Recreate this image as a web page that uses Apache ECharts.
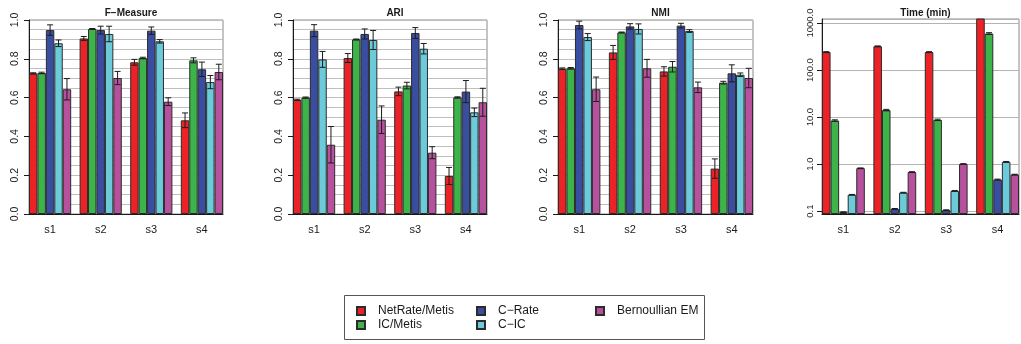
<!DOCTYPE html>
<html>
<head>
<meta charset="utf-8">
<script src="https://cdn.jsdelivr.net/npm/echarts@6/dist/echarts.min.js"></script>
<style>
  html, body { margin: 0; padding: 0; background: #fff; }
  #chart { width: 1021px; height: 344px; }
</style>
</head>
<body>
<div id="chart"></div>
<script>
// Sample sets on the x axis and the compared methods
const categories = ['s1', 's2', 's3', 's4'];
const methods = ['NetRate/Metis', 'IC/Metis', 'C\u2212Rate', 'C\u2212IC', 'Bernoullian EM'];
const colors = ['#EC2227', '#3DB44A', '#3A4EA1', '#6BCBDB', '#B8519D'];

// Rows follow `methods`, columns follow `categories`
const fMeasureMean = [
  [0.725, 0.905, 0.782, 0.483],
  [0.727, 0.954, 0.804, 0.792],
  [0.948, 0.948, 0.945, 0.746],
  [0.880, 0.928, 0.890, 0.680],
  [0.643, 0.701, 0.579, 0.732]
];
const fMeasureErr = [
  [0.003, 0.010, 0.015, 0.038],
  [0.004, 0.002, 0.004, 0.013],
  [0.027, 0.020, 0.019, 0.037],
  [0.017, 0.040, 0.009, 0.034],
  [0.055, 0.034, 0.020, 0.040]
];

const ariMean = [
  [0.589, 0.804, 0.632, 0.196],
  [0.600, 0.900, 0.662, 0.601],
  [0.945, 0.928, 0.933, 0.631],
  [0.797, 0.897, 0.852, 0.524],
  [0.357, 0.486, 0.316, 0.576]
];
const ariErr = [
  [0.003, 0.023, 0.022, 0.044],
  [0.003, 0.002, 0.017, 0.003],
  [0.031, 0.026, 0.028, 0.057],
  [0.041, 0.049, 0.027, 0.022],
  [0.094, 0.071, 0.031, 0.072]
];

const nmiMean = [
  [0.749, 0.833, 0.735, 0.234],
  [0.751, 0.936, 0.759, 0.677],
  [0.974, 0.967, 0.971, 0.725],
  [0.912, 0.954, 0.943, 0.718],
  [0.643, 0.751, 0.653, 0.701]
];
const nmiErr = [
  [0.004, 0.036, 0.024, 0.050],
  [0.004, 0.002, 0.027, 0.007],
  [0.020, 0.014, 0.012, 0.044],
  [0.018, 0.026, 0.007, 0.009],
  [0.063, 0.046, 0.027, 0.050]
];

// Running time in minutes (log scale)
const timeMean = [
  [241, 320, 241, 1300],
  [8.45, 14.1, 8.75, 598],
  [0.095, 0.112, 0.105, 0.47],
  [0.224, 0.248, 0.27, 1.12],
  [0.82, 0.68, 1.01, 0.60]
];
const timeErr = [
  [5, 6, 5, 0],
  [0.3, 0.5, 0.3, 25],
  [0.002, 0.002, 0.002, 0.01],
  [0.003, 0.004, 0.004, 0.02],
  [0.01, 0.01, 0.01, 0.01]
];

const scoreTicks = [0, 0.2, 0.4, 0.6, 0.8, 1.0];
const timeRange = [0.0871, 1217];

const FONT = '"Liberation Sans", Arial, Helvetica, sans-serif';
const INK = '#1a1a1a';
const GRIDLINE = '#bfbfbf';

// One slot per bar plus an empty slot between sample sets
const groupSize = methods.length + 1;
const slots = [];
categories.forEach((c, k) => {
  methods.forEach((m, i) => slots.push(c + '_' + i));
  if (k < categories.length - 1) slots.push('gap_' + k);
});
const slotOf = (k, i) => k * groupSize + i;
const centerSlot = Math.floor(methods.length / 2);

const panels = [
  { title: 'F\u2212Measure', mean: fMeasureMean, err: fMeasureErr, box: [29, 20, 194, 194] },
  { title: 'ARI', mean: ariMean, err: ariErr, box: [293, 20, 194, 194] },
  { title: 'NMI', mean: nmiMean, err: nmiErr, box: [558, 20, 195, 194] },
  { title: 'Time (min)', mean: timeMean, err: timeErr, box: [822, 19, 197, 195], log: true }
];

const option = {
  animation: false,
  backgroundColor: '#fff',
  textStyle: { fontFamily: FONT },
  title: [],
  grid: [],
  xAxis: [],
  yAxis: [],
  series: [],
  legend: [],
  graphic: []
};

panels.forEach((p, pi) => {
  const [left, top, width, height] = p.box;
  option.title.push({
    text: p.title,
    left: left + width / 2,
    top: 3,
    textAlign: 'center',
    textStyle: { fontFamily: FONT, fontSize: 10, fontWeight: 'bold', color: INK }
  });
  option.grid.push({
    left, top, width, height,
    show: true, borderColor: '#8a8a8a', borderWidth: 1,
    containLabel: false, outerBoundsMode: 'none'
  });
  option.xAxis.push({
    type: 'category',
    gridIndex: pi,
    data: slots,
    boundaryGap: true,
    axisLine: { show: true, lineStyle: { color: INK, width: 1 } },
    axisTick: { show: false },
    splitLine: { show: false },
    axisLabel: {
      interval: 0,
      margin: 10,
      fontSize: 11,
      color: INK,
      fontFamily: FONT,
      formatter: (v, idx) => (idx % groupSize === centerSlot ? categories[Math.floor(idx / groupSize)] : '')
    }
  });
  if (p.log) {
    option.yAxis.push({
      type: 'log',
      logBase: 10,
      gridIndex: pi,
      min: timeRange[0],
      max: timeRange[1],
      startValue: timeRange[0],
      axisLine: { show: true, lineStyle: { color: INK } },
      axisTick: { show: true, length: 5, lineStyle: { color: INK } },
      axisLabel: {
        rotate: 90, fontSize: 9.5, color: INK, margin: 7, fontFamily: FONT,
        showMinLabel: false, showMaxLabel: false,
        formatter: v => Number(v).toFixed(1)
      },
      splitLine: { show: true, lineStyle: { color: '#b4b4b4', width: 1 } }
    });
  } else {
    option.yAxis.push({
      type: 'value',
      gridIndex: pi,
      min: scoreTicks[0],
      max: scoreTicks[scoreTicks.length - 1],
      interval: scoreTicks[1] - scoreTicks[0],
      axisLine: { show: true, lineStyle: { color: INK } },
      axisTick: { show: true, length: 5, lineStyle: { color: INK } },
      axisLabel: {
        rotate: 90, fontSize: 10.5, color: INK, margin: 8, fontFamily: FONT,
        formatter: v => Number(v).toFixed(1)
      },
      splitLine: { show: true, lineStyle: { color: GRIDLINE, width: 1 } },
      minorTick: { show: false, splitNumber: 4 },
      minorSplitLine: { show: true, lineStyle: { color: GRIDLINE, width: 1 } }
    });
  }

  // bars: each method fills its own slot
  methods.forEach((m, i) => {
    const data = slots.map(() => null);
    categories.forEach((c, k) => { data[slotOf(k, i)] = p.mean[i][k]; });
    option.series.push({
      type: 'bar',
      name: m,
      xAxisIndex: pi,
      yAxisIndex: pi,
      data,
      barGap: '-100%',
      barCategoryGap: '0%',
      clip: true,
      itemStyle: { color: colors[i], borderColor: '#2b2b2b', borderWidth: 1 },
      emphasis: { disabled: true },
      z: 2
    });
  });

  // error bars with caps
  const errData = [];
  methods.forEach((m, i) => {
    categories.forEach((c, k) => {
      const e = p.err[i][k];
      if (e > 0) errData.push([slotOf(k, i), p.mean[i][k] - e, p.mean[i][k] + e]);
    });
  });
  option.series.push({
    type: 'custom',
    xAxisIndex: pi,
    yAxisIndex: pi,
    data: errData,
    encode: { x: 0, y: [1, 2] },
    z: 5,
    silent: true,
    renderItem: (params, api) => {
      const x = api.value(0);
      const hi = api.coord([x, api.value(2)]);
      const lo = api.coord([x, api.value(1)]);
      const cap = 3;
      const style = { stroke: '#1c1c1c', lineWidth: 1 };
      return {
        type: 'group',
        children: [
          { type: 'line', shape: { x1: hi[0], y1: hi[1], x2: lo[0], y2: lo[1] }, style },
          { type: 'line', shape: { x1: hi[0] - cap, y1: hi[1], x2: hi[0] + cap, y2: hi[1] }, style },
          { type: 'line', shape: { x1: lo[0] - cap, y1: lo[1], x2: lo[0] + cap, y2: lo[1] }, style }
        ]
      };
    }
  });
});

// Legend: three columns inside a framed box
const legendColumns = [[0, 1], [2, 3], [4]];
const legendLeft = [356, 476, 595];
legendColumns.forEach((col, ci) => {
  option.legend.push({
    orient: 'vertical',
    left: legendLeft[ci],
    top: 304,
    padding: 0,
    itemGap: 0,
    itemWidth: 8,
    itemHeight: 8,
    icon: 'rect',
    selectedMode: false,
    data: col.map(i => methods[i]),
    textStyle: { fontFamily: FONT, fontSize: 12, color: INK, lineHeight: 14, padding: [0, 0, 0, 8] }
  });
});
option.graphic.push({
  type: 'rect',
  shape: { x: 344.5, y: 295.5, width: 360, height: 44 },
  style: { fill: 'none', stroke: '#555', lineWidth: 1 },
  silent: true
});

const chart = echarts.init(document.getElementById('chart'), null, { renderer: 'canvas' });
chart.setOption(option);
</script>
</body>
</html>
